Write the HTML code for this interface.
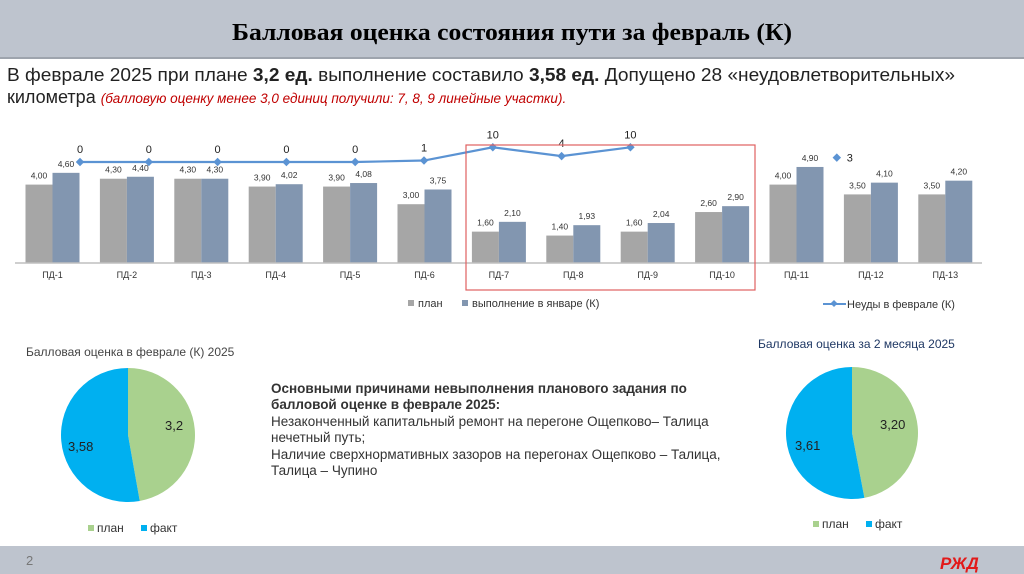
<!DOCTYPE html>
<html><head><meta charset="utf-8"><style>
body{margin:0;width:1024px;height:574px;overflow:hidden;background:#fff;font-family:"Liberation Sans",sans-serif}
svg{display:block}
</style></head><body>
<svg id="s" width="1024" height="574" viewBox="0 0 1024 574" xmlns="http://www.w3.org/2000/svg" font-family="Liberation Sans, sans-serif">
<rect x="0" y="0" width="1024" height="58" fill="#bec4ce"/>
<rect x="0" y="57" width="1024" height="2" fill="#9ea4ad"/>
<text x="512" y="40" text-anchor="middle" font-family="Liberation Serif, serif" font-weight="bold" font-size="24" textLength="560" lengthAdjust="spacingAndGlyphs">Балловая оценка состояния пути за февраль (К)</text>
<text x="7" y="81" font-size="18" fill="#222" textLength="948" lengthAdjust="spacingAndGlyphs">В феврале 2025 при плане <tspan font-weight="bold">3,2 ед.</tspan> выполнение составило <tspan font-weight="bold">3,58  ед.</tspan> Допущено 28 «неудовлетворительных»</text>
<text x="7" y="103" font-size="18" fill="#222">километра <tspan font-size="13.5" font-style="italic" fill="#c00000">(балловую оценку менее 3,0 единиц получили: 7, 8, 9 линейные участки).</tspan></text>
<g id="chart"></g>
<rect x="466" y="145" width="289" height="145" fill="none" stroke="#e06060" stroke-width="1.2"/>
<g font-size="11" fill="#333">
<rect x="408" y="300" width="6" height="6" fill="#a6a6a6"/><text x="418" y="307">план</text>
<rect x="462" y="300" width="6" height="6" fill="#8296b0"/><text x="472" y="307">выполнение в январе (К)</text>
</g>
<g font-size="11" fill="#333">
<line x1="823" y1="304" x2="846" y2="304" stroke="#5b93d3" stroke-width="2"/><rect x="831.5" y="301" width="5" height="5" fill="#5b93d3" transform="rotate(45 834 303.5)"/><text x="847" y="308">Неуды в феврале (К)</text>
</g>
<text x="26" y="356" font-size="12" fill="#444">Балловая оценка в  феврале (К) 2025</text>
<text x="758" y="348" font-size="12" fill="#1f3864">Балловая оценка за 2 месяца 2025</text>
<g id="pies"></g>
<g font-size="12" fill="#333"><rect x="88" y="525" width="6" height="6" fill="#a9d18e"/><text x="97" y="532">план</text><rect x="141" y="525" width="6" height="6" fill="#00b0f0"/><text x="150" y="532">факт</text></g>
<g font-size="12" fill="#333"><rect x="813" y="521" width="6" height="6" fill="#a9d18e"/><text x="822" y="528">план</text><rect x="866" y="521" width="6" height="6" fill="#00b0f0"/><text x="875" y="528">факт</text></g>
<g font-size="13.5" fill="#333">
<text x="271" y="393" font-weight="bold">Основными причинами невыполнения планового задания по</text>
<text x="271" y="409" font-weight="bold">балловой оценке в  феврале  2025:</text>
<text x="271" y="426">Незаконченный капитальный ремонт на перегоне Ощепково–  Талица</text>
<text x="271" y="442">нечетный путь;</text>
<text x="271" y="459">Наличие  сверхнормативных зазоров на перегонах  Ощепково – Талица,</text>
<text x="271" y="475">Талица – Чупино</text>
</g>
<rect x="0" y="546" width="1024" height="28" fill="#bec4ce"/>
<text x="26" y="565" font-size="13" fill="#777">2</text>
<text x="940" y="569" font-size="17" font-weight="bold" font-style="italic" fill="#e21a1a">РЖД</text>
</svg>
<script>
const categories=["ПД-1","ПД-2","ПД-3","ПД-4","ПД-5","ПД-6","ПД-7","ПД-8","ПД-9","ПД-10","ПД-11","ПД-12","ПД-13"];
const planValues=[4.00,4.30,4.30,3.90,3.90,3.00,1.60,1.40,1.60,2.60,4.00,3.50,3.50];
const factValues=[4.60,4.40,4.30,4.02,4.08,3.75,2.10,1.93,2.04,2.90,4.90,4.10,4.20];
const failValues=[0,0,0,0,0,1,10,4,10,null,null,3];
const pie1Values=[3.2,3.58];
const pie1Labels=["3,2","3,58"];
const pie2Values=[3.20,3.61];
const pie2Labels=["3,20","3,61"];
const NS="http://www.w3.org/2000/svg";
const chart=document.getElementById('chart');
function mk(tag,attrs,parent,text){const e=document.createElementNS(NS,tag);for(const k in attrs)e.setAttribute(k,attrs[k]);if(text!==undefined)e.textContent=text;parent.appendChild(e);return e;}
const base=263,unit=19.6;
const xCat=i=>52.5+74.4*i;
const yBar=v=>base-v*unit;
const xLine=i=>80+68.8*i;
const yLine=v=>162-v*1.47;
const fmt=v=>v.toFixed(2).replace('.',',');
const bw=27;
categories.forEach((c,i)=>{
  const cx=xCat(i);
  const b1=mk('rect',{x:cx-bw,y:yBar(planValues[i]),width:bw,height:planValues[i]*unit,fill:'#a6a6a6'},chart);
  
  
  const b2=mk('rect',{x:cx,y:yBar(factValues[i]),width:bw,height:factValues[i]*unit,fill:'#8296b0'},chart);
  
  
  const l1=mk('text',{x:cx-bw/2,y:yBar(planValues[i])-6,'font-size':8.5,'text-anchor':'middle',fill:'#333'},chart,fmt(planValues[i]));
  
  
  const l2=mk('text',{x:cx+bw/2,y:yBar(factValues[i])-6,'font-size':8.5,'text-anchor':'middle',fill:'#333'},chart,fmt(factValues[i]));
  
  
  const t=mk('text',{x:cx,y:278,'font-size':9,'text-anchor':'middle',fill:'#333'},chart,c);
  
  
});
const ax=mk('line',{x1:15,y1:base,x2:982,y2:base,stroke:'#bfbfbf','stroke-width':1.5},chart);


let seg=[];
failValues.forEach((v,i)=>{ if(v===null){ if(seg.length)draw(seg); seg=[]; } else seg.push([xLine(i),yLine(v)]); });
if(seg.length)draw(seg);
function draw(pts){ if(pts.length<2)return; const p=mk('polyline',{points:pts.map(q=>q.join(',')).join(' '),fill:'none',stroke:'#5b93d3','stroke-width':2.2},chart);   }
failValues.forEach((v,i)=>{
  if(v===null)return;
  const x=xLine(i),y=yLine(v);
  const m=mk('rect',{x:x-3,y:y-3,width:6,height:6,fill:'#5b93d3',transform:`rotate(45 ${x} ${y})`},chart);
  
  
  const isolated=(failValues[i-1]===null||failValues[i-1]===undefined)&&(failValues[i+1]===null||failValues[i+1]===undefined)&&i>0;
  const t=isolated?mk('text',{x:x+10,y:y+4,'font-size':11,fill:'#222'},chart,String(v)):mk('text',{x:x,y:y-9,'font-size':11,'text-anchor':'middle',fill:'#222'},chart,String(v));
  
  
});
const pies=document.getElementById('pies');
function pie(cx,cy,r,vals,labels,name,lp){
  const tot=vals[0]+vals[1];let a0=-Math.PI/2;const cols=['#a9d18e','#00b0f0'];
  vals.forEach((v,k)=>{
    const a1=a0+v/tot*2*Math.PI;const large=(a1-a0)>Math.PI?1:0;
    const d=`M${cx},${cy} L${cx+r*Math.cos(a0)},${cy+r*Math.sin(a0)} A${r},${r} 0 ${large} 1 ${cx+r*Math.cos(a1)},${cy+r*Math.sin(a1)} Z`;
    const p=mk('path',{d:d,fill:cols[k]},pies);
    
    
    a0=a1;
  });
  labels.forEach((l,k)=>{
    const t=mk('text',{x:lp[k][0],y:lp[k][1],'font-size':13,fill:'#222'},pies,l);
    
    
  });
}
pie(128,435,67,pie1Values,pie1Labels,'pie1',[[165,430],[68,451]]);
pie(852,433,66,pie2Values,pie2Labels,'pie2',[[880,429],[795,450]]);
</script>
</body></html>
